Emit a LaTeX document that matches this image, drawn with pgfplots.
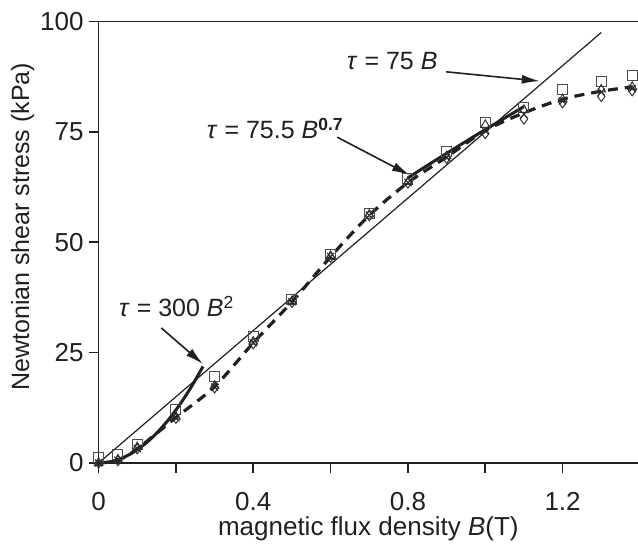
\documentclass[border=0pt]{standalone}
\usepackage{fontspec}
\setmainfont{Liberation Sans}
\usepackage{pgfplots}
\pgfplotsset{compat=1.18}
\usetikzlibrary{arrows.meta}

\definecolor{ink}{HTML}{231F20}

\begin{document}
\begin{tikzpicture}[font=\fontsize{12.5}{15}\selectfont, >={Latex[length=9pt,width=4.5pt]}]
\begin{axis}[
    name=ax,
    scale only axis,
    width=269.7pt, height=220.75pt,
    xmin=0, xmax=1.395,
    ymin=0, ymax=100,
    axis lines=left,
    axis line style={-, line width=0.9pt, ink},
    tick style={line width=0.8pt, ink},
    tick align=outside,
    major tick length=5pt,
    xtick={0,0.2,...,1.2},
    xticklabels={0,,0.4,,0.8,,1.2},
    ytick={0,25,50,75,100},
    tick label style={font=\fontsize{13}{15}\selectfont, text=ink},
    xticklabel style={yshift=-6pt},
    yticklabel style={xshift=1pt},
    /pgf/number format/assume math mode=true,
    xlabel={magnetic flux density \textit{B}(T)},
    ylabel={Newtonian shear stress (kPa)},
    every axis x label/.style={at={(axis description cs:0.5,0)}, anchor=center, yshift=-33pt, text=ink, font=\fontsize{13}{15}\selectfont},
    every axis y label/.style={at={(axis description cs:0,0.535)}, anchor=center, rotate=90, yshift=38pt, text=ink},
    clip=false,
    every mark/.append style={solid},
]
% top frame line
\draw[line width=0.9pt, ink] (rel axis cs:0,1) -- (rel axis cs:1,1);

% tau = 75 B
\addplot[ink, line width=0.6pt] coordinates {(0,0) (1.30,97.5)};

% tau = 300 B^2
\addplot[ink, line width=1.5pt, smooth] coordinates {
(0,0) (0.03,0.27) (0.06,1.08) (0.09,2.43) (0.12,4.32) (0.15,6.75)
(0.18,9.72) (0.21,13.23) (0.24,17.28) (0.27,21.87)};

% tau = 75.5 B^0.7
\addplot[ink, line width=1.5pt, smooth] coordinates {
(0.8,64.58) (0.85,67.38) (0.9,70.13) (0.95,72.84) (1.0,75.5) (1.05,78.12) (1.1,80.71)};

% fit through data
\addplot[ink, line width=1.6pt, smooth, dash pattern=on 5pt off 3.5pt] coordinates {
(0,0) (0.05,0.6) (0.1,3.2) (0.2,10.3) (0.3,17.3) (0.4,27.2) (0.5,36.5) (0.6,46.7)
(0.7,56.1) (0.8,63.5) (0.9,69.3) (1.0,75.3) (1.1,79.3) (1.2,82.4) (1.3,84.2) (1.38,85.2)};

% measured points
\addplot[only marks, mark=square, mark size=2.5pt, mark options={draw=black!70, line width=0.5pt}] coordinates {
(0,1.2) (0.05,2) (0.1,4.1) (0.2,12.2) (0.3,19.5) (0.4,28.6) (0.5,37) (0.6,47.2)
(0.7,56.6) (0.8,64.5) (0.9,70.5) (1.0,77.2) (1.1,80.6) (1.2,84.5) (1.3,86.4) (1.38,87.7)};
\addplot[only marks, mark=triangle, mark size=2.5pt, mark options={draw=black!80, line width=0.5pt}] coordinates {
(0,0) (0.05,0.8) (0.1,3.6) (0.2,10.5) (0.3,17.5) (0.4,27.5) (0.5,36.7) (0.6,46.9)
(0.7,56.3) (0.8,63.7) (0.9,69.5) (1.0,76.6) (1.1,80.0) (1.2,82.4) (1.3,84.6) (1.38,85.2)};
\addplot[only marks, mark=diamond, mark size=2.5pt, mark options={draw=black!80, line width=0.5pt}] coordinates {
(0,0) (0.05,0.5) (0.1,3.2) (0.2,10.1) (0.3,17.0) (0.4,27.0) (0.5,36.4) (0.6,46.6)
(0.7,56.0) (0.8,63.4) (0.9,69.0) (1.0,74.6) (1.1,77.9) (1.2,81.6) (1.3,83.0) (1.38,84.3)};
\addplot[only marks, mark=x, mark size=2.5pt, mark options={draw=black!85, line width=0.5pt}] coordinates {
(0,0) (0.05,0.6) (0.1,3.3) (0.2,10.2) (0.3,17.2) (0.4,27.2) (0.5,36.5) (0.6,46.8)
(0.7,56.1) (0.8,63.5) (0.9,69.2) (1.0,75.2) (1.1,79.0) (1.2,82.0) (1.3,84.0) (1.38,84.8)};

% annotations
\node[anchor=base west, text=ink] at (axis cs:0.624,89.2) {\textit{τ} = 75 \textit{B}};
\draw[->, line width=0.8pt, ink] (axis cs:0.899,88.6) -- (axis cs:1.141,86.5);
\node[anchor=base west, text=ink] at (axis cs:0.262,73.4) {\textit{τ} = 75.5 \textit{B}\textsuperscript{\textbf{0.7}}};
\draw[->, line width=0.8pt, ink] (axis cs:0.617,73.8) -- (axis cs:0.805,65.2);
\node[anchor=base west, text=ink] at (axis cs:0.035,33.1) {\textit{τ} = 300 \textit{B}\textsuperscript{2}};
\draw[->, line width=0.8pt, ink] (axis cs:0.162,30.6) -- (axis cs:0.27,22.4);
\end{axis}
\pgfresetboundingbox
\path[use as bounding box] ([xshift=-49.3pt,yshift=-43pt]ax.south west) rectangle ([yshift=10.75pt]ax.north east);
\end{tikzpicture}
\end{document}
